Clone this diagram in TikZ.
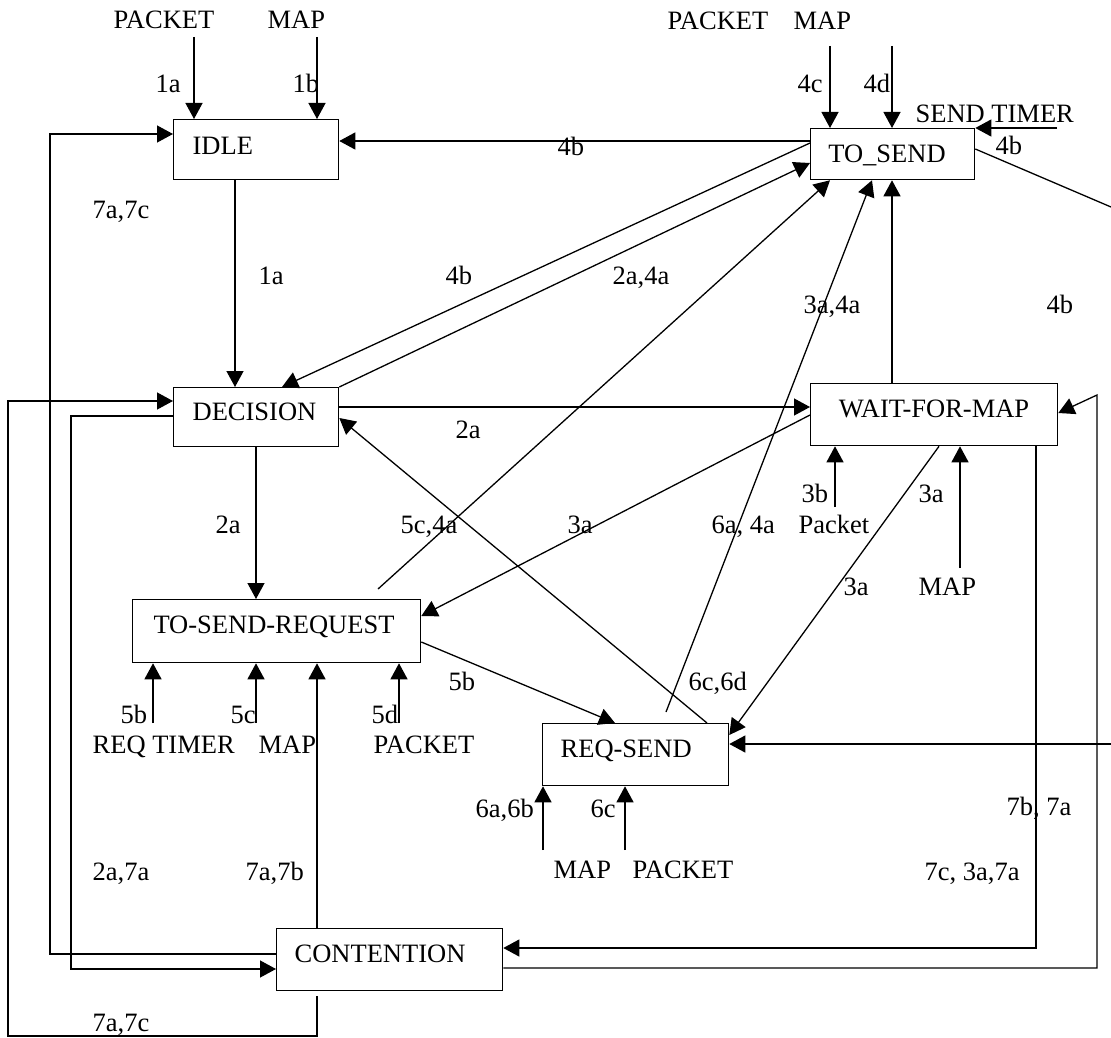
\documentclass[tikz,border=0pt]{standalone}
\usepackage{fontspec}
\setmainfont{Liberation Serif}
\usetikzlibrary{arrows.meta,calc}
\begin{document}
\begin{tikzpicture}[x=1pt,y=-1pt,
  every node/.style={font=\fontsize{26.5pt}{30pt}\selectfont, inner sep=0pt},
  line width=1.3pt,
  box/.style={draw, anchor=north west},
  txt/.style={anchor=base west},
  ctxt/.style={anchor=base},
  arr/.style={-{Triangle[length=16pt,width=17pt]}}]
\useasboundingbox (0,0) rectangle (1111,1038);

% ---- states ----
\node[box, minimum width=165pt, minimum height=60pt] (idle)       at (173,119) {};
\node[box, minimum width=164pt, minimum height=51pt] (tosend)     at (810,128) {};
\node[box, minimum width=165pt, minimum height=59pt] (decision)   at (173,387) {};
\node[box, minimum width=247pt, minimum height=62pt] (wfm)        at (810,383) {};
\node[box, minimum width=288pt, minimum height=63pt] (tsr)        at (132,599) {};
\node[box, minimum width=186pt, minimum height=62pt] (reqsend)    at (542,723) {};
\node[box, minimum width=226pt, minimum height=62pt] (contention) at (276,928) {};

\node[txt]  (idlet) at (192,154) {IDLE};
\node[txt]  (dect)  at (192,420) {DECISION};
\node[ctxt] (tst)   at (887,162) {TO\_SEND};
\node[ctxt] (wfmt)  at (934,417) {WAIT-FOR-MAP};
\node[ctxt] (tsrt)  at (274,633) {TO-SEND-REQUEST};
\node[txt]  (rqt)   at (560,757) {REQ-SEND};
\node[txt]  (cont)  at (294,962) {CONTENTION};

% ---- free ends of the input arrows ----
\coordinate (pk1)  at (194,37);
\coordinate (mp1)  at (317,37);
\coordinate (pk4c) at (830,46);
\coordinate (mp4d) at (892,46);
\coordinate (stm)  at (1057,128);
\coordinate (ts4b) at (1111,207);
\coordinate (pk3b) at (835,507);
\coordinate (mp3a) at (960,568);
\coordinate (t5b)  at (153,723);
\coordinate (m5c)  at (256,723);
\coordinate (p5d)  at (399,723);
\coordinate (m6a)  at (543,850);
\coordinate (p6c)  at (625,850);
\coordinate (rs)   at (1111,744);
\coordinate (rb)   at (1097,395);
\coordinate (lo1)  at (50,134);
\coordinate (lo2)  at (71,416);
\coordinate (lo3)  at (8,1036);
\coordinate (lo3b) at (8,401);

% ---- input arrows ----
\draw[arr] (pk1) -- (pk1 |- idle.north);
\draw[arr] (mp1) -- (mp1 |- idle.north);
\draw[arr] (pk4c) -- (pk4c |- tosend.north);
\draw[arr] (mp4d) -- (mp4d |- tosend.north);
\draw[arr] (stm) -- (tosend.north east);
\draw[arr] (pk3b) -- (pk3b |- wfm.south);
\draw[arr] (mp3a) -- (mp3a |- wfm.south);
\draw[arr] (t5b) -- (t5b |- tsr.south);
\draw[arr] (m5c) -- (m5c |- tsr.south);
\draw[arr] (p5d) -- (p5d |- tsr.south);
\draw[arr] (m6a) -- (m6a |- reqsend.south);
\draw[arr] (p6c) -- (p6c |- reqsend.south);
\draw[arr] (rs) -- (rs -| reqsend.east);

% ---- transitions ----
\draw[arr] ($(tosend.north west)+(0,13)$) -- ($(idle.north east)+(0,22)$);
\draw[arr] ($(idle.south west)+(62,0)$) -- ($(decision.north west)+(62,0)$);
\draw[arr] ($(tosend.north west)+(0,15)$) -- ($(decision.north west)+(109,0)$);
\draw[arr] (decision.north east) -- ($(tosend.north west)+(0,35)$);
\draw[arr] ($(decision.north east)+(0,20)$) -- ($(wfm.north west)+(0,24)$);
\draw[arr] ($(wfm.north west)+(0,32)$) -- ($(tsr.north east)+(0,17)$);
\draw[arr] ($(decision.south west)+(83,0)$) -- ($(tsr.north west)+(124,0)$);
\draw[arr] ($(tsr.north west)+(246,-10)$) -- ($(tosend.south west)+(20,0)$);
\draw[arr] ($(reqsend.north west)+(124,-11)$) -- ($(tosend.south west)+(62,0)$);
\draw[arr] ($(wfm.north west)+(82,0)$) -- ($(tosend.south west)+(82,0)$);
\draw[arr] ($(reqsend.north west)+(165,0)$) -- ($(decision.north east)+(0,31)$);
\draw[arr] ($(tsr.north east)+(0,43)$) -- ($(reqsend.north west)+(73,0)$);
\draw[arr] ($(wfm.south west)+(129,0)$) -- ($(reqsend.north east)+(0,12)$);
\draw[arr] ($(wfm.south west)+(226,0)$) |- ($(contention.north east)+(0,20)$);
\draw[arr] ($(contention.north east)+(0,40)$) -| (rb) -- ($(wfm.north east)+(0,30)$);
\draw ($(tosend.north east)+(0,21)$) -- (ts4b);
\draw[arr] ($(contention.north west)+(41,0)$) -- ($(tsr.south west)+(185,0)$);
\draw[arr] ($(contention.north west)+(0,26)$) -| (lo1) -- (lo1 -| idle.west);
\draw[arr] ($(decision.north west)+(0,29)$) -- (lo2) |- ($(contention.north west)+(0,41)$);
\draw[arr] ($(contention.south west)+(41,5)$) |- (lo3) -- (lo3b) -- (lo3b -| decision.west);

% ---- texts ----
\node[txt] (tpk1) at (113,29) {PACKET};
\node[txt] (tmp1) at (267,29) {MAP};
\node[txt] (l1a)  at (155,93) {1a};
\node[txt] (l1b)  at (292,93) {1b};
\node[txt] (tpk2) at (667,30) {PACKET};
\node[txt] (tmp2) at (793,30) {MAP};
\node[txt] (l4c)  at (797,93) {4c};
\node[txt] (l4d)  at (863,93) {4d};
\node[txt] (tstm) at (915,123) {SEND TIMER};
\node[txt] (l4bA) at (995,155) {4b};
\node[txt] (l4bB) at (557,156) {4b};
\node[txt] (l7a7cA) at (92,218) {7a,7c};
\node[txt] (l1aB) at (258,284) {1a};
\node[txt] (l4bC) at (445,284) {4b};
\node[txt] (l2a4a) at (612,284) {2a,4a};
\node[txt] (l4bD) at (1046,313) {4b};
\node[txt] (l3a4a) at (803,313) {3a,4a};
\node[txt] (l2aA) at (455,438) {2a};
\node[txt] (l2aB) at (215,533) {2a};
\node[txt] (l5c4a) at (400,533) {5c,4a};
\node[txt] (l3aA) at (567,533) {3a};
\node[txt] (l6a4a) at (711,533) {6a, 4a};
\node[txt] (tpk3) at (798,533) {Packet};
\node[txt] (l3b)  at (801,502) {3b};
\node[txt] (l3aB) at (918,502) {3a};
\node[txt] (l3aC) at (843,595) {3a};
\node[txt] (tmp3) at (918,595) {MAP};
\node[txt] (l5bA) at (448,690) {5b};
\node[txt] (l6c6d) at (688,690) {6c,6d};
\node[txt] (l5bB) at (120,723) {5b};
\node[txt] (l5c)  at (230,723) {5c};
\node[txt] (l5d)  at (371,723) {5d};
\node[txt] (treq) at (92,753) {REQ TIMER};
\node[txt] (tmp5) at (258,753) {MAP};
\node[txt] (tpk5) at (373,753) {PACKET};
\node[txt] (l6a6b) at (475,817) {6a,6b};
\node[txt] (l6c)  at (590,817) {6c};
\node[txt] (tmp6) at (553,878) {MAP};
\node[txt] (tpk6) at (632,878) {PACKET};
\node[txt] (l7b7a) at (1006,815) {7b, 7a};
\node[txt] (l7c3a) at (924,880) {7c, 3a,7a};
\node[txt] (l2a7a) at (92,880) {2a,7a};
\node[txt] (l7a7b) at (245,880) {7a,7b};
\node[txt] (l7a7cB) at (92,1031) {7a,7c};
\end{tikzpicture}
\end{document}
